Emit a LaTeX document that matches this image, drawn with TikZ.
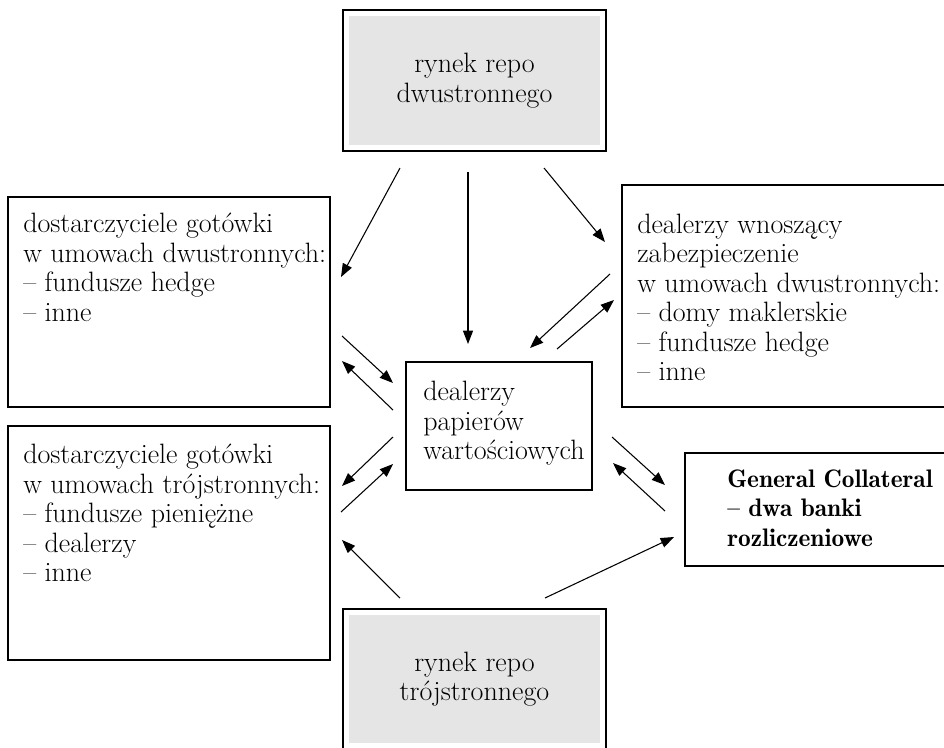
\documentclass[tikz,border=0pt]{standalone}
\usepackage{tikz}
\usetikzlibrary{arrows.meta,positioning,calc}

\begin{document}
\begin{tikzpicture}[x=0.75pt,y=-0.75pt,
    box/.style={draw, line width=1pt, inner sep=0pt},
    repobox/.style={box, align=center, font=\fontsize{21}{22.1}\selectfont,
      path picture={\fill[black!10] ([shift={(4.5pt,-4.5pt)}]path picture bounding box.north west)
        rectangle ([shift={(-4.5pt,4.5pt)}]path picture bounding box.south east);}},
    txt/.style={font=\fontsize{21}{22.1}\selectfont, align=left, inner sep=0pt, anchor=base west},
    flow/.style={-{Triangle[length=10pt,width=7.5pt]}, line width=0.8pt}]
    \useasboundingbox (0,0) rectangle (944,747);
    % Markets
    \node[repobox, minimum width=197.25pt, minimum height=105.75pt] (rdwu) at (474.5,80.5) {rynek repo\\dwustronnego};
    \node[repobox, minimum width=197.25pt, minimum height=105pt] (rtroj) at (474.5,679) {rynek repo\\trójstronnego};
    % Boxes
    \node[box, minimum width=241.5pt, minimum height=157.5pt] (gotdwu) at (169,302) {};
    \node[box, minimum width=241.5pt, minimum height=175.5pt] (gottroj) at (169,543) {};
    \node[box, minimum width=139.5pt, minimum height=96pt] (dealerzy) at (499,426) {};
    \node[box, minimum width=253.5pt, minimum height=166.5pt] (wnosz) at (791,296) {};
    \node[box, line width=1.8pt, minimum width=206.25pt, minimum height=84.75pt] (gc) at (822.5,509.5) {};
    % Texts (anchored at the last line)
    \node[txt] (gotdwu-t) at (23,321) {dostarczyciele gotówki\\w umowach dwustronnych:\\-- fundusze hedge\\-- inne};
    \node[txt] (gottroj-t) at (23,581.5) {dostarczyciele gotówki\\w umowach trójstronnych:\\-- fundusze pieniężne\\-- dealerzy\\-- inne};
    \node[txt] (dealerzy-t) at (423,459.5) {dealerzy\\papierów\\wartościowych};
    \node[txt] (wnosz-t) at (637,380.5) {dealerzy wnoszący\\zabezpieczenie\\w umowach dwustronnych:\\-- domy maklerskie\\-- fundusze hedge\\-- inne};
    \node[txt, font=\fontsize{19}{22.1}\fontseries{b}\selectfont] (gc-t) at (727,546) {General Collateral\\-- dwa banki\\rozliczeniowe};
    % Arrow ends
    \coordinate (a1s) at (400,168); \coordinate (a1e) at (341,277);
    \coordinate (a2s) at (468,172); \coordinate (a2e) at (468,344);
    \coordinate (a3s) at (544,168); \coordinate (a3e) at (605,242);
    \coordinate (r1s) at (610,274); \coordinate (r1e) at (530,348);
    \coordinate (r2s) at (557,349); \coordinate (r2e) at (614,300);
    \coordinate (l1s) at (342,336); \coordinate (l1e) at (393,383);
    \coordinate (l2s) at (393,410); \coordinate (l2e) at (342,361);
    \coordinate (l3s) at (393,437); \coordinate (l3e) at (342,486);
    \coordinate (l4s) at (341,512); \coordinate (l4e) at (393,464);
    \coordinate (c1s) at (612,437); \coordinate (c1e) at (665,485);
    \coordinate (c2s) at (665,511); \coordinate (c2e) at (613,463);
    \coordinate (b1s) at (400,598); \coordinate (b1e) at (342,540);
    \coordinate (b2s) at (545,598); \coordinate (b2e) at (674,537);
    % Flows
    \foreach \a in {a1,a2,a3,r1,r2,l1,l2,l3,l4,c1,c2,b1,b2}
      \draw[flow] (\a s) -- (\a e);
\end{tikzpicture}
\end{document}
